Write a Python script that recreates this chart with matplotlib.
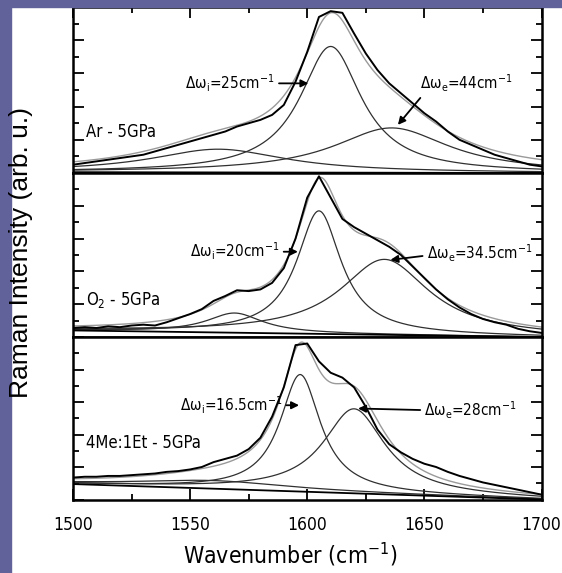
import numpy as np
import matplotlib.pyplot as plt
from matplotlib.patches import Rectangle
from matplotlib.ticker import MultipleLocator

plt.rcParams['font.family'] = ['DejaVu Sans']
plt.rcParams['font.stretch'] = 'condensed'
plt.rcParams['mathtext.default'] = 'regular'

# wavenumber grid of the measured spectra (cm-1)
wavenumber = np.arange(1500, 1701, 5)

ar_spectrum = [0.05, 0.06, 0.07, 0.08, 0.09, 0.10, 0.11, 0.13, 0.15, 0.17, 0.19,
               0.21, 0.23, 0.25, 0.28, 0.30, 0.32, 0.35, 0.41, 0.55, 0.73, 0.94,
               0.975, 0.965, 0.84, 0.72, 0.62, 0.54, 0.48, 0.42, 0.36, 0.31, 0.25,
               0.20, 0.17, 0.14, 0.11, 0.09, 0.07, 0.05, 0.04]
o2_spectrum = [0.055, 0.06, 0.055, 0.065, 0.06, 0.07, 0.075, 0.07, 0.09, 0.115, 0.14,
               0.17, 0.22, 0.25, 0.285, 0.28, 0.29, 0.33, 0.42, 0.60, 0.85, 0.98,
               0.85, 0.72, 0.67, 0.63, 0.59, 0.55, 0.50, 0.43, 0.36, 0.29, 0.23,
               0.18, 0.14, 0.11, 0.09, 0.075, 0.05, 0.035, 0.025]
me_spectrum = [0.135, 0.14, 0.14, 0.145, 0.145, 0.15, 0.155, 0.16, 0.17, 0.175, 0.185,
               0.20, 0.23, 0.25, 0.27, 0.31, 0.38, 0.51, 0.69, 0.95, 0.96, 0.85,
               0.78, 0.75, 0.69, 0.57, 0.43, 0.34, 0.29, 0.25, 0.22, 0.20, 0.17,
               0.145, 0.125, 0.105, 0.09, 0.075, 0.06, 0.045, 0.03]

# Lorentzian fit components: [internal, external, low-frequency band]
ar_centers = [1610, 1636, 1562]
ar_fwhm = [32, 60, 70]
ar_heights = [0.76, 0.27, 0.14]
ar_baseline = [0.005, 0.0]   # at 1500 and 1700

o2_centers = [1605, 1633, 1569]
o2_fwhm = [23, 46, 29]
o2_heights = [0.75, 0.46, 0.12]
o2_baseline = [0.04, 0.0]

me_centers = [1597, 1620, 1560]
me_fwhm = [21, 32, 80]
me_heights = [0.72, 0.52, 0.05]
me_baseline = [0.095, 0.0]

panels = [
    (ar_spectrum, ar_centers, ar_fwhm, ar_heights, ar_baseline, 'Ar - 5GPa', 0.245,
     [(r'Δω$_i$=25cm$^{-1}$', (1548, 0.54), (1600.5, 0.54), (1.0, 0.5)),
      (r'Δω$_e$=44cm$^{-1}$', (1648, 0.54), (1638.7, 0.29), (0.08, 0.2))]),
    (o2_spectrum, o2_centers, o2_fwhm, o2_heights, o2_baseline, 'O$_2$ - 5GPa', 0.225,
     [(r'Δω$_i$=20cm$^{-1}$', (1550, 0.52), (1596, 0.52), (1.0, 0.5)),
      (r'Δω$_e$=34.5cm$^{-1}$', (1651, 0.51), (1635.5, 0.47), (0.0, 0.4))]),
    (me_spectrum, me_centers, me_fwhm, me_heights, me_baseline, '4Me:1Et - 5GPa', 0.35,
     [(r'Δω$_i$=16.5cm$^{-1}$', (1545.5, 0.58), (1596.5, 0.58), (1.0, 0.5)),
      (r'Δω$_e$=28cm$^{-1}$', (1650, 0.55), (1621.7, 0.56), (0.0, 0.5))]),
]

W, H = 562, 573
fig = plt.figure(figsize=(W / 100, H / 100), dpi=100)
purple = '#62629a'
fig.patches.append(Rectangle((0, 0), 11 / W, 1, transform=fig.transFigure,
                             color=purple, zorder=0))
fig.patches.append(Rectangle((0, 1 - 7 / H), 1, 7 / H, transform=fig.transFigure,
                             color=purple, zorder=0))

left, right = 73, 541.5
tops = [7, 173, 337]
bottoms = [173, 337, 499.5]
x_fine = np.linspace(1500, 1700, 801)

for k, (spec, cen, fw, hts, base, name, name_y, notes) in enumerate(panels):
    ax = fig.add_axes([left / W, 1 - bottoms[k] / H, (right - left) / W,
                       (bottoms[k] - tops[k]) / H])
    bl = base[0] + (base[1] - base[0]) * (x_fine - 1500) / 200
    total = bl.copy()
    for c, w, h in zip(cen, fw, hts):
        comp = h / (1 + ((x_fine - c) / (w / 2)) ** 2)
        total += comp
        ax.plot(x_fine, comp + bl, color='#303030', lw=0.9)
    ax.plot(x_fine, bl, color='black', lw=1.3)
    ax.plot(x_fine, total, color='#9a9a9a', lw=1.0)
    ax.plot(wavenumber, spec, color='black', lw=1.4)

    ax.text(1505.5, name_y, name, fontsize=12, va='center', ha='left')
    for txt, xyt, xy, rp in notes:
        ax.annotate(txt, xy=xy, xytext=xyt, fontsize=11, va='center', ha='left',
                    arrowprops=dict(arrowstyle='-|>', color='black', lw=1.3,
                                    mutation_scale=11, relpos=rp, shrinkA=1, shrinkB=0))

    ax.set_xlim(1500, 1700)
    ax.set_ylim(0, 1.0)
    ax.xaxis.set_major_locator(MultipleLocator(50))
    ax.xaxis.set_minor_locator(MultipleLocator(25))
    ax.yaxis.set_major_locator(MultipleLocator(0.2))
    ax.yaxis.set_minor_locator(MultipleLocator(0.1))
    ax.tick_params(which='both', direction='in', left=True, right=True,
                   top=(k == 0), bottom=(k == 2), labelleft=False,
                   labelbottom=(k == 2), width=1.3)
    ax.tick_params(which='major', length=8, labelsize=12.5, pad=12)
    ax.tick_params(which='minor', length=4)
    for s in ax.spines.values():
        s.set_linewidth(1.8)

fig.text(21 / W, 1 - 253 / H, 'Raman Intensity (arb. u.)', rotation=90,
         ha='center', va='center', fontsize=19, family='Liberation Sans',
         stretch='normal')
fig.text(290 / W, 1 - 555 / H, 'Wavenumber (cm$^{-1}$)', ha='center',
         va='center', fontsize=16.5)

fig.savefig('out.png', dpi=100)
